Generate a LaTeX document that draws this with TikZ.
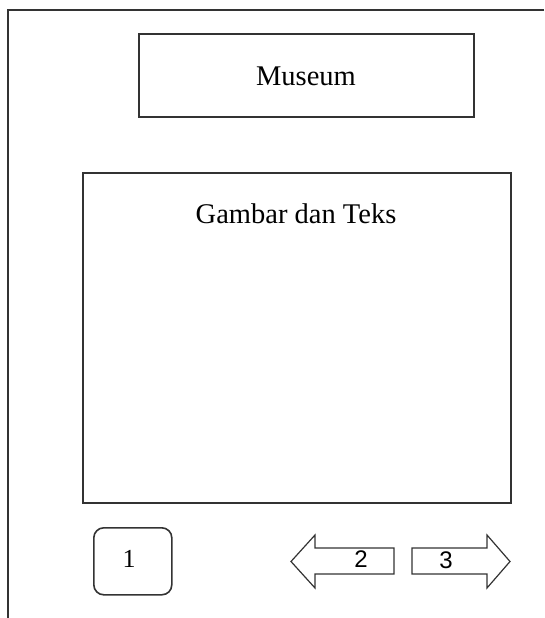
\documentclass[tikz,border=0pt]{standalone}
\usepackage{fontspec}
\setmainfont{Liberation Serif}
\newfontfamily\digitfont{Liberation Sans}
\begin{document}
\begin{tikzpicture}[x=1pt,y=-1pt,
  frame/.style={draw=black!80,line width=1.6pt},
  box/.style={frame,inner sep=0pt,anchor=north west},
  label/.style={font=\fontsize{28.5}{31}\selectfont,inner sep=0pt,anchor=base},
  digit/.style={font=\digitfont\fontsize{24}{28}\selectfont,inner sep=0pt,anchor=base}]
\useasboundingbox (0,0) rectangle (544,618);
% outer frame (top and left edges)
\draw[frame] (544,10) -- (8,10) -- (8,618);
% title box
\node[box,minimum width=335pt,minimum height=83pt] (title) at (138,33) {};
\node[label] (titletext) at (306,85) {Museum};
% content box
\node[box,minimum width=428pt,minimum height=330pt] (content) at (82,172) {};
\node[label] (contenttext) at (296,223) {Gambar dan Teks};
% rounded button
\node[box,rounded corners=10pt,minimum width=78pt,minimum height=67pt] (btn) at (93,527) {};
\node[label,font=\fontsize{26}{28}\selectfont] (btntext) at (129,567) {1};
% left arrow
\draw[frame,line width=1.2pt,line join=miter] (291,561.5) -- (315,535) -- (315,548) -- (394,548) -- (394,574) -- (315,574) -- (315,588) -- cycle;
\node[digit] (two) at (361,567) {2};
% right arrow
\draw[frame,line width=1.2pt,line join=miter] (510,561.5) -- (487,535) -- (487,548) -- (412,548) -- (412,574) -- (487,574) -- (487,588) -- cycle;
\node[digit] (three) at (446,568) {3};
\end{tikzpicture}
\end{document}
